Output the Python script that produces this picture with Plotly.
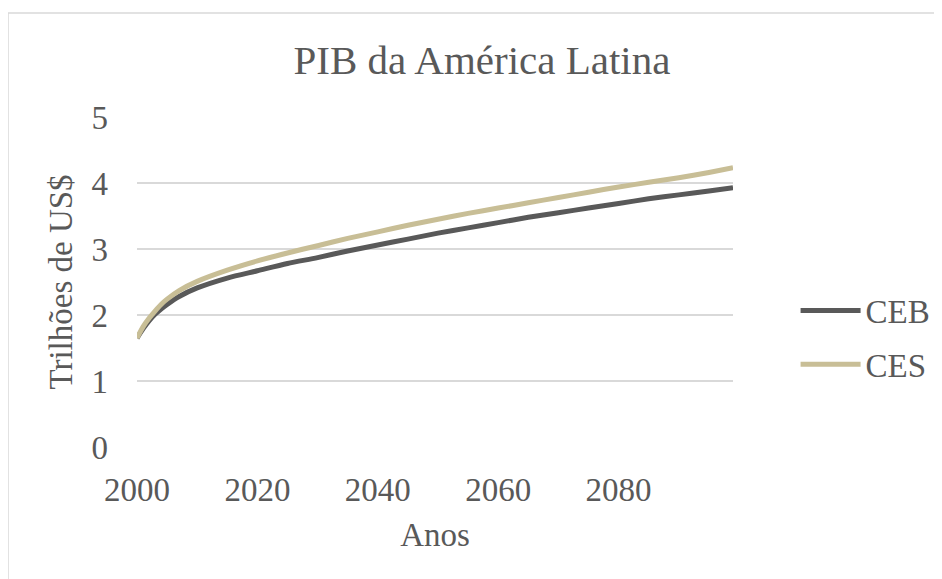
import plotly.graph_objects as go

years = [2000, 2001, 2002, 2003, 2004, 2005, 2007, 2010, 2015, 2020, 2025, 2030,
         2035, 2040, 2045, 2050, 2055, 2060, 2065, 2070, 2075, 2080, 2085, 2090,
         2095, 2099]
ceb = [1.65, 1.79, 1.91, 2.01, 2.09, 2.16, 2.28, 2.41, 2.56, 2.67, 2.78, 2.87,
       2.97, 3.06, 3.15, 3.24, 3.32, 3.40, 3.48, 3.55, 3.62, 3.69, 3.76, 3.82,
       3.88, 3.93]
ces = [1.65, 1.82, 1.95, 2.06, 2.16, 2.24, 2.37, 2.51, 2.68, 2.82, 2.94, 3.05,
       3.16, 3.26, 3.36, 3.45, 3.54, 3.62, 3.70, 3.78, 3.86, 3.94, 4.01, 4.08,
       4.16, 4.23]
x_ticks = [2000, 2020, 2040, 2060, 2080]
y_ticks = [0, 1, 2, 3, 4, 5]

TXT = "#595959"
W, H = 934, 571
OX, OY = 8, 8  # page body margin offset

L = 137 - OX
T = 116 - OY
R = W - (733 - OX)
B = H - (448 - OY)
PW = W - L - R
PH = H - T - B
BOT = 448

def px_x(px):
    return (px - OX - L) / PW

def px_y(py):
    return (BOT - py) / PH

fig = go.Figure()
fig.add_trace(go.Scatter(x=years, y=ceb, name="CEB", mode="lines",
                         line=dict(color="#595959", width=5, shape="spline", smoothing=0.8),
                         legendgroup="a"))
fig.add_trace(go.Scatter(x=years, y=ces, name="CES", mode="lines",
                         line=dict(color="#C8BE96", width=5, shape="spline", smoothing=0.8),
                         legendgroup="b"))

fig.update_layout(
    width=W, height=H,
    margin=dict(l=L, r=R, t=T, b=B, autoexpand=False),
    paper_bgcolor="white", plot_bgcolor="white",
    font=dict(family="Times New Roman", size=33, color=TXT),
    title=dict(text="PIB da América Latina", font=dict(size=41, color=TXT, family="Liberation Serif"),
               x=(482 - OX) / W, xanchor="center", xref="container",
               y=1 - (60 - OY) / H, yanchor="middle", yref="container"),
    showlegend=True,
    legend=dict(x=1.105, xanchor="left", y=0.333, yanchor="middle",
                font=dict(size=33, color=TXT, family="Liberation Serif"),
                itemwidth=60, tracegroupgap=8, bgcolor="rgba(0,0,0,0)"),
    xaxis=dict(range=[2000, 2099], tickvals=x_ticks, showgrid=False, zeroline=False,
               showline=False, ticks="", ticklabelstandoff=19, automargin=False,
               tickfont=dict(family="Times New Roman", size=33, color=TXT),
               title=dict(text="Anos", standoff=15, font=dict(size=33, color=TXT, family="serif"))),
    yaxis=dict(range=[-0.015, 5.015], tickvals=y_ticks, showgrid=True, gridcolor="#D9D9D9",
               gridwidth=1.5, zeroline=False, showline=False, ticks="",
               ticklabelstandoff=28, automargin=False,
               tickfont=dict(family="Liberation Serif", size=33, color=TXT),
               title=dict(text="Trilhões de US$", standoff=8, font=dict(size=33, color=TXT, family="Liberation Serif"))),
    shapes=[dict(type="rect", xref="paper", yref="paper",
                 x0=px_x(8), x1=px_x(960), y0=px_y(600), y1=px_y(13),
                 line=dict(color="#D9D9D9", width=1.5), fillcolor="rgba(0,0,0,0)", layer="below")],
)

fig.write_html("out.html")
